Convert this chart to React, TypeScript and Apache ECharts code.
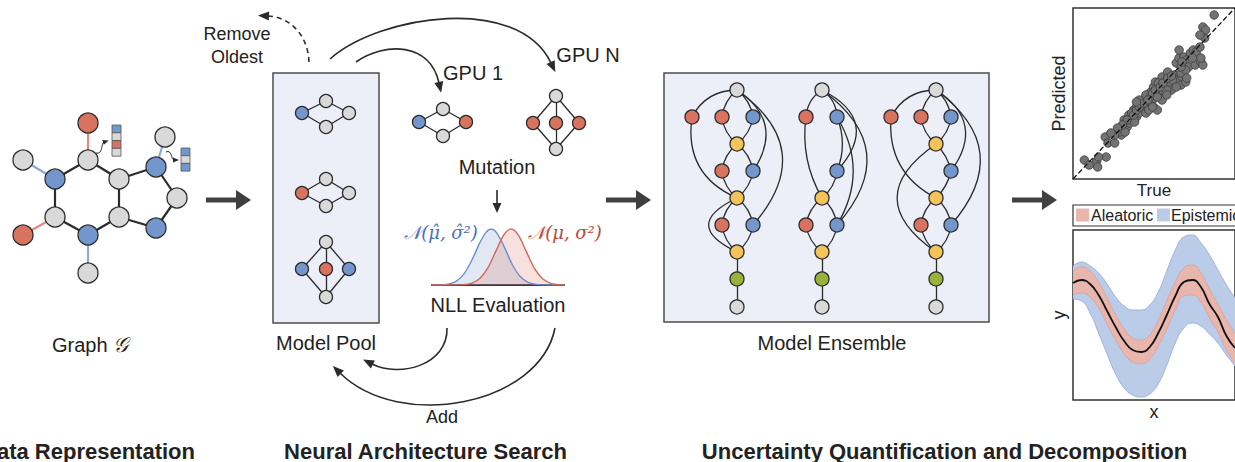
import React, { useEffect, useRef } from "react";
import * as echarts from "echarts";

const W = 1235;
const H = 462;
const FONT = "Liberation Sans";
const INK = "#2B2B2B";
const NODE_COLORS: Record<string, string> = {
  r: "#D8735F",
  b: "#7397CC",
  g: "#D9D9D9",
  y: "#F2C45A",
  v: "#9BB23A",
};

// ---------- Data representation: molecule graph ----------
const moleculeNodes: [number, number, string][] = [
  [88, 123, "r"], [88, 160, "g"], [23, 160, "g"], [55, 179, "b"], [55, 217, "g"],
  [23, 235, "r"], [88, 235, "b"], [88, 273, "g"], [119, 179, "g"], [119, 217, "g"],
  [156, 167, "b"], [165, 137, "g"], [177, 198, "g"], [156, 228, "b"],
];
const moleculeEdges: [number, number, string][] = [
  [0, 1, "r"], [1, 3, "k"], [1, 8, "k"], [2, 3, "b"], [3, 4, "k"], [4, 5, "r"], [4, 6, "k"],
  [6, 7, "b"], [6, 9, "k"], [8, 9, "k"], [8, 10, "k"], [10, 11, "b"], [10, 12, "k"],
  [12, 13, "k"], [13, 9, "k"],
];
const featureVectorA = ["b", "g", "r", "g"];
const featureVectorB = ["b", "g", "b"];

// ---------- Neural architecture search ----------
const poolNodes: [number, number, string][] = [
  [302, 113, "b"], [326, 101, "g"], [326, 127, "g"], [349, 113, "g"],
  [302, 193, "r"], [326, 179, "g"], [326, 206, "g"], [349, 193, "g"],
  [326, 242, "g"], [302, 269, "b"], [326, 269, "r"], [349, 269, "b"], [326, 297, "g"],
];
const poolEdges: [number, number][] = [
  [0, 1], [0, 2], [1, 3], [2, 3], [4, 5], [4, 6], [5, 7], [6, 7],
  [8, 9], [8, 10], [8, 11], [9, 12], [10, 12], [11, 12],
];
const gpuNodes: [number, number, string][] = [
  [419, 122, "b"], [443, 109, "g"], [443, 136, "g"], [466, 122, "r"],
  [556, 96, "g"], [533, 123, "r"], [556, 123, "r"], [579, 123, "r"], [556, 149, "g"],
];
const gpuEdges: [number, number][] = [
  [0, 1], [0, 2], [1, 3], [2, 3], [4, 5], [4, 6], [4, 7], [5, 8], [6, 8], [7, 8],
];

// Gaussians: [x, density]
const gaussPredicted: [number, number][] = [
  [0, 0], [8, 0.003], [16, 0.016], [24, 0.066], [32, 0.2], [40, 0.45], [48, 0.76], [54, 0.94],
  [59, 1], [64, 0.95], [72, 0.69], [80, 0.375], [88, 0.155], [96, 0.048], [104, 0.011],
  [112, 0.002], [120, 0], [132, 0],
];
const gaussTrue: [number, number][] = [
  [0, 0], [16, 0], [24, 0.001], [32, 0.007], [40, 0.034], [48, 0.12], [56, 0.31], [64, 0.61],
  [72, 0.9], [79, 1], [86, 0.9], [94, 0.61], [102, 0.31], [110, 0.12], [118, 0.034],
  [126, 0.007], [132, 0.002],
];

// ---------- Model ensemble ----------
const ensembleNodes: [number, number, string][] = [
  [737, 90, "g"], [692, 117, "r"], [722, 117, "r"], [753, 117, "b"], [737, 144, "y"], [722, 171, "r"],
  [753, 171, "b"], [737, 198, "y"], [722, 225, "r"], [753, 225, "b"], [737, 252, "y"], [737, 279, "v"],
  [737, 307, "g"],
  [822, 90, "g"], [806, 117, "r"], [837, 117, "b"], [837, 171, "b"], [822, 198, "y"], [806, 225, "r"],
  [837, 225, "b"], [822, 252, "y"], [822, 279, "v"], [822, 307, "g"],
  [936, 90, "g"], [891, 117, "r"], [921, 117, "r"], [951, 117, "b"], [936, 144, "y"], [951, 171, "b"],
  [936, 198, "y"], [921, 225, "r"], [951, 225, "b"], [936, 252, "y"], [936, 279, "v"], [936, 307, "g"],
];
const ensembleEdges: [number, number, number][] = [
  [0, 1, -0.3], [0, 2, -0.2], [0, 3, 0.2], [2, 4, -0.2], [3, 4, 0.2], [4, 5, -0.2], [4, 6, 0.2],
  [5, 7, -0.2], [6, 7, 0.2], [1, 7, -0.38], [0, 6, 0.5], [0, 9, 0.55], [7, 8, -0.2], [7, 9, 0.2],
  [8, 10, -0.2], [9, 10, 0.2], [7, 10, -1.05], [10, 11, 0], [11, 12, 0],
  [13, 14, -0.25], [13, 15, 0.25], [15, 16, 0.2], [15, 19, 0.3], [13, 16, 0.65], [13, 19, 0.55],
  [14, 17, -0.17], [16, 17, 0.2], [17, 18, -0.2], [17, 19, 0.2], [18, 20, -0.2], [19, 20, 0.2],
  [20, 21, 0], [21, 22, 0],
  [23, 24, -0.3], [23, 25, -0.2], [23, 26, 0.2], [25, 27, -0.2], [26, 27, 0.2], [27, 28, 0.15],
  [28, 29, 0.15], [23, 28, 0.53], [23, 31, 0.54], [24, 29, -0.33], [27, 32, -0.72], [29, 30, -0.2],
  [29, 31, 0.2], [30, 32, -0.2], [31, 32, 0.2], [32, 33, 0], [33, 34, 0],
];

// ---------- Predicted vs True scatter ----------
const scatterPoints: [number, number][] = [
  [12, 19], [25, 18], [26, 12], [35, 22], [34, 42], [37, 36], [44, 36], [51, 44], [49, 47], [54, 59],
  [57, 52], [60, 56], [64, 69], [67, 62], [70, 66], [65, 57], [74, 72], [77, 66], [74, 79], [80, 76],
  [84, 79], [82, 87], [85, 92], [87, 97], [90, 86], [94, 79], [85, 72], [89, 69], [94, 89], [97, 92],
  [99, 99], [102, 96], [104, 89], [107, 104], [110, 99], [114, 94], [115, 102], [119, 97], [114, 106],
  [109, 116], [112, 121], [117, 122], [120, 119], [124, 126], [127, 129], [130, 127], [122, 112],
  [129, 114], [135, 117], [137, 114], [112, 129], [134, 132], [139, 141], [137, 152], [140, 149],
  [149, 164], [67, 72], [59, 64], [62, 66], [55, 47], [44, 44], [64, 64], [70, 79], [77, 84], [94, 102],
  [100, 107], [105, 99], [99, 89], [90, 96], [82, 82], [119, 109], [114, 112], [67, 69], [70, 72],
  [75, 76], [79, 79], [84, 86], [87, 89], [92, 92], [95, 96], [100, 101], [104, 103], [80, 69], [84, 72],
  [57, 59], [52, 54], [47, 51], [40, 46], [67, 77], [89, 82], [99, 84], [109, 92], [120, 101],
  [115, 117], [126, 121], [134, 144], [135, 121], [27, 22], [17, 14],
];
const identityLine: [number, number][] = [[0, 0], [171, 171]];

// ---------- Aleatoric / epistemic bands ----------
const bandX = [0, 9, 18, 27, 36, 45, 54, 63, 72, 81, 90, 99, 108, 117, 126, 135, 144, 153, 162, 171];
const meanY = [117, 120, 116, 105, 89, 73, 59, 50, 48, 53, 67, 85, 104, 118, 120, 113, 96, 83, 64, 52];
const epistemicUpper = [134, 138, 134, 127, 116, 103, 94, 90, 90, 95, 108, 129, 150, 163, 165, 157, 145, 130, 115, 102];
const epistemicLower = [101, 99, 87, 67, 46, 26, 12, 5, 3, 6, 16, 35, 57, 72, 77, 74, 66, 57, 45, 34];
const aleatoricUpper = [129, 133, 129, 118, 102, 85, 71, 62, 60, 65, 80, 99, 118, 132, 135, 127, 111, 96, 80, 67];
const aleatoricLower = [105, 107, 103, 92, 76, 60, 46, 38, 36, 41, 54, 71, 90, 104, 105, 98, 82, 68, 50, 37];

const EDGE_COLORS: Record<string, string> = { k: INK, r: "#E08B7E", b: "#8EA9D6" };

function graphSeries(nodes: [number, number, string][], edges: any[], size: number, edgeWidth: number, colored = false) {
  return {
    type: "graph",
    coordinateSystem: "cartesian2d",
    xAxisIndex: 0,
    yAxisIndex: 0,
    symbol: "circle",
    symbolSize: size,
    silent: true,
    z: 3,
    label: { show: false },
    emphasis: { disabled: true },
    data: nodes.map(([x, y, k]) => ({
      value: [x, y],
      itemStyle: { color: NODE_COLORS[k], borderColor: INK, borderWidth: 1.3 },
    })),
    links: edges.map((e) => ({
      source: e[0],
      target: e[1],
      lineStyle: {
        curveness: colored ? 0 : e[2] || 0,
        color: colored ? EDGE_COLORS[e[2]] : INK,
      },
    })),
    lineStyle: { color: INK, width: edgeWidth, opacity: 1 },
  };
}

function curvedArrow(p0: number[], p1: number[], p2: number[], p3: number[], dash?: number[], len = 10, half = 4.5, width = 1.6) {
  const dx = p3[0] - p2[0];
  const dy = p3[1] - p2[1];
  const L = Math.hypot(dx, dy) || 1;
  const ux = dx / L;
  const uy = dy / L;
  const tip = [p3[0] + ux * len, p3[1] + uy * len];
  const style: any = { stroke: INK, lineWidth: width, fill: "none" };
  if (dash) style.lineDash = dash;
  return [
    {
      type: "bezierCurve",
      z: 4,
      shape: { x1: p0[0], y1: p0[1], cpx1: p1[0], cpy1: p1[1], cpx2: p2[0], cpy2: p2[1], x2: p3[0], y2: p3[1] },
      style,
    },
    {
      type: "polygon",
      z: 4,
      shape: {
        points: [
          tip,
          [p3[0] - uy * half - ux, p3[1] + ux * half - uy],
          [p3[0] + uy * half - ux, p3[1] - ux * half - uy],
        ],
      },
      style: { fill: INK },
    },
  ];
}

function thickArrow(x: number, y: number) {
  return [
    { type: "rect", z: 4, shape: { x, y: y - 2.5, width: 32, height: 5 }, style: { fill: "#404040" } },
    { type: "polygon", z: 4, shape: { points: [[x + 30, y - 10], [x + 45, y], [x + 30, y + 10]] }, style: { fill: "#404040" } },
  ];
}

function featureCells(vec: string[], x: number, y: number, h: number) {
  return vec.map((k, i) => ({
    type: "rect",
    z: 4,
    shape: { x, y: y + i * h, width: 9, height: h },
    style: { fill: NODE_COLORS[k], stroke: "#555", lineWidth: 0.8 },
  }));
}

function label(x: number, y: number, text: string, size = 20, extra: any = {}) {
  return {
    type: "text",
    z: 6,
    x,
    y,
    style: {
      text,
      fontSize: size,
      fontFamily: FONT,
      fill: "#222",
      align: "center",
      verticalAlign: "middle",
      ...extra,
    },
  };
}

export default function App() {
  const ref = useRef<HTMLDivElement>(null);
  useEffect(() => {
    document.body.style.margin = "0";
    if (!ref.current) return;
    const chart = echarts.init(ref.current, undefined, { renderer: "svg" });
    const hidden = { axisLine: { show: false }, axisTick: { show: false }, axisLabel: { show: false }, splitLine: { show: false } };
    const graphic: any[] = [
      { type: "rect", z: 1, shape: { x: 273, y: 73, width: 106, height: 250 }, style: { fill: "#ECEFF8", stroke: "#4D4D4D", lineWidth: 1.5 } },
      { type: "rect", z: 1, shape: { x: 664, y: 73, width: 325, height: 249 }, style: { fill: "#ECEFF8", stroke: "#4D4D4D", lineWidth: 1.5 } },
      ...featureCells(featureVectorA, 112, 125, 7.8),
      ...featureCells(featureVectorB, 181, 148, 7.7),
      ...curvedArrow([96, 153], [103, 155], [101, 143], [104, 142], undefined, 5, 2.5, 1),
      ...curvedArrow([166, 152], [172, 149], [171, 160], [174, 160], undefined, 5, 2.5, 1),
      ...thickArrow(206, 200),
      ...thickArrow(606, 200),
      ...thickArrow(1012, 200),
      ...curvedArrow([330, 59], [380, 15], [518, -6], [551, 63]),
      ...curvedArrow([356, 62], [385, 42], [430, 42], [439, 83]),
      ...curvedArrow([309, 62], [308, 35], [290, 17], [268, 16], [5, 4]),
      ...curvedArrow([447, 328], [448, 365], [400, 378], [372, 364]),
      ...curvedArrow([555, 328], [540, 405], [400, 432], [340, 373]),
      { type: "line", z: 4, shape: { x1: 497, y1: 190, x2: 497, y2: 204 }, style: { stroke: INK, lineWidth: 1.6 } },
      { type: "polygon", z: 4, shape: { points: [[497, 213], [492.5, 203], [501.5, 203]] }, style: { fill: INK } },
      {
        type: "text", z: 6, x: 90, y: 345,
        style: {
          text: "{a|Graph }{g|𝒢}", align: "center", verticalAlign: "middle",
          rich: {
            a: { fontSize: 20, fontFamily: FONT, fill: "#222" },
            g: { fontSize: 21, fontFamily: "DejaVu Serif", fontStyle: "italic", fill: "#222" },
          },
        },
      },
      label(237, 45, "Remove\nOldest", 18, { lineHeight: 23 }),
      label(473, 73, "GPU 1"),
      label(588, 55, "GPU N"),
      label(497, 167, "Mutation"),
      label(498, 305, "NLL Evaluation"),
      label(442, 417, "Add", 18),
      label(326, 343, "Model Pool"),
      label(832, 343, "Model Ensemble"),
      label(441, 232, "𝒩(μ\u0302, σ\u0302²)", 18, { fontFamily: "DejaVu Serif", fontStyle: "italic", fill: "#4A72B5" }),
      label(565, 232, "𝒩(μ, σ²)", 18, { fontFamily: "DejaVu Serif", fontStyle: "italic", fill: "#C0463A" }),
      label(195, 451, "Data Representation", 22, { fontWeight: "bold", align: "right" }),
      label(425.5, 451, "Neural Architecture Search", 22, { fontWeight: "bold" }),
      label(944.5, 451, "Uncertainty Quantification and Decomposition", 22, { fontWeight: "bold" }),
      { type: "rect", z: 6, shape: { x: 1073, y: 205, width: 200, height: 21 }, style: { fill: "#fff", stroke: "#333", lineWidth: 1.2 } },
      { type: "rect", z: 7, shape: { x: 1076, y: 208.5, width: 13, height: 13 }, style: { fill: "#E9B6AE" } },
      label(1091, 215.5, "Aleatoric", 16, { align: "left" }),
      { type: "rect", z: 7, shape: { x: 1157, y: 208.5, width: 13, height: 13 }, style: { fill: "#BBCCE9" } },
      label(1171, 215.5, "Epistemic", 16, { align: "left" }),
    ];

    const option: any = {
      animation: false,
      textStyle: { fontFamily: FONT },
      grid: [
        { left: 0, top: 0, width: W, height: H, show: false },
        { left: 432, top: 229, width: 132, height: 56, show: false },
        { left: 1073, top: 8, width: 171, height: 171, show: true, borderColor: "#333", borderWidth: 1.5, backgroundColor: "#fff" },
        { left: 1073, top: 230, width: 171, height: 170, show: true, borderColor: "#333", borderWidth: 1.5, backgroundColor: "#fff" },
      ],
      xAxis: [
        { gridIndex: 0, type: "value", min: 0, max: W, show: false },
        {
          gridIndex: 1, type: "value", min: 0, max: 132,
          axisLine: { show: true, onZero: true, lineStyle: { color: "#3A3A3A", width: 2 } },
          axisTick: { show: false }, axisLabel: { show: false }, splitLine: { show: false },
        },
        {
          gridIndex: 2, type: "value", min: 0, max: 171, name: "True", nameLocation: "middle", nameGap: 3,
          nameTextStyle: { fontSize: 17, color: "#222", verticalAlign: "top" }, ...hidden,
        },
        {
          gridIndex: 3, type: "category", data: bandX.map(String), boundaryGap: false, name: "x",
          nameLocation: "middle", nameGap: 3, nameTextStyle: { fontSize: 18, color: "#222", verticalAlign: "top" }, ...hidden,
        },
      ],
      yAxis: [
        { gridIndex: 0, type: "value", min: 0, max: H, inverse: true, show: false },
        { gridIndex: 1, type: "value", min: 0, max: 1, show: false },
        {
          gridIndex: 2, type: "value", min: 0, max: 171, name: "Predicted", nameLocation: "middle", nameGap: 5,
          nameTextStyle: { fontSize: 18, color: "#222" }, ...hidden,
        },
        {
          gridIndex: 3, type: "value", min: 0, max: 170, name: "y", nameLocation: "middle", nameGap: 5,
          nameTextStyle: { fontSize: 18, color: "#222" }, ...hidden,
        },
      ],
      graphic,
      series: [
        graphSeries(moleculeNodes, moleculeEdges, 20, 2.2, true),
        graphSeries(poolNodes, poolEdges, 13, 1.3),
        graphSeries(gpuNodes, gpuEdges, 13, 1.3),
        graphSeries(ensembleNodes, ensembleEdges, 14, 1.3),
        {
          type: "line", name: "Predicted distribution", xAxisIndex: 1, yAxisIndex: 1, data: gaussPredicted,
          smooth: 0.35, symbol: "none", lineStyle: { color: "#6E8ECB", width: 1.4 },
          areaStyle: { color: "rgba(122,152,208,0.32)" }, z: 3,
        },
        {
          type: "line", name: "True distribution", xAxisIndex: 1, yAxisIndex: 1, data: gaussTrue,
          smooth: 0.35, symbol: "none", lineStyle: { color: "#D06A5A", width: 1.4 },
          areaStyle: { color: "rgba(215,110,95,0.3)" }, z: 3,
        },
        {
          type: "scatter", xAxisIndex: 2, yAxisIndex: 2, data: scatterPoints, symbolSize: 8.5,
          itemStyle: { color: "#737373", borderColor: "#3C3C3C", borderWidth: 0.8, opacity: 1 }, z: 3,
        },
        {
          type: "line", xAxisIndex: 2, yAxisIndex: 2, data: identityLine, symbol: "none",
          lineStyle: { type: "dashed", color: "#111", width: 1.3 }, z: 4,
        },
        {
          type: "line", name: "Epistemic lower", xAxisIndex: 3, yAxisIndex: 3, stack: "ep", data: epistemicLower,
          smooth: true, symbol: "none", lineStyle: { color: "#9FB3DC", width: 1 }, z: 2,
        },
        {
          type: "line", name: "Epistemic", xAxisIndex: 3, yAxisIndex: 3, stack: "ep",
          data: epistemicUpper.map((u, i) => u - epistemicLower[i]),
          smooth: true, symbol: "none", lineStyle: { color: "#9FB3DC", width: 1 },
          areaStyle: { color: "#BBCCE9", opacity: 1 }, z: 2,
        },
        {
          type: "line", name: "Aleatoric lower", xAxisIndex: 3, yAxisIndex: 3, stack: "al", data: aleatoricLower,
          smooth: true, symbol: "none", lineStyle: { color: "#D9A097", width: 0.8 }, z: 3,
        },
        {
          type: "line", name: "Aleatoric", xAxisIndex: 3, yAxisIndex: 3, stack: "al",
          data: aleatoricUpper.map((u, i) => u - aleatoricLower[i]),
          smooth: true, symbol: "none", lineStyle: { color: "#D9A097", width: 0.8 },
          areaStyle: { color: "#E9B6AE", opacity: 1 }, z: 3,
        },
        {
          type: "line", name: "Mean", xAxisIndex: 3, yAxisIndex: 3, data: meanY,
          smooth: true, symbol: "none", lineStyle: { color: "#111", width: 1.8 }, z: 4,
        },
      ],
    };
    chart.setOption(option);
    return () => chart.dispose();
  }, []);
  return <div ref={ref} style={{ width: W, height: H }} />;
}
